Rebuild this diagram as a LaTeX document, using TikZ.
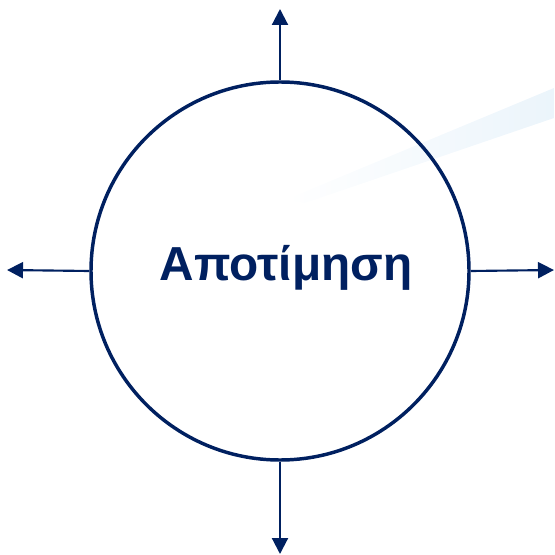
\documentclass[tikz,border=0pt]{standalone}
\usepackage{fontspec}
\setmainfont{Liberation Sans}
\usetikzlibrary{arrows.meta}
\definecolor{navy}{RGB}{0,32,96}
\definecolor{glare}{RGB}{205,228,245}
\begin{document}
\begin{tikzpicture}[x=0.75pt,y=-0.75pt,
  ring/.style={draw=navy,line width=2.6pt,circle,minimum size=378*0.75pt,inner sep=0pt},
  spoke/.style={draw=navy,line width=1.6pt,-{Triangle[length=12pt,width=12pt]}}]
\useasboundingbox (0,0) rectangle (554,555);
% faint background glare
\shade[left color=white,right color=glare,opacity=0.4]
  (285,200) -- (554,88) -- (554,118) -- (305,203) -- cycle;
\node[ring] (c) at (280,271) {};
\node[font=\bfseries\fontsize{35.8}{40}\selectfont,text=navy] (t) at (286,268) {Αποτίμηση};
\coordinate (n) at (280,9);
\coordinate (s) at (280,554);
\coordinate (w) at (7,270);
\coordinate (e) at (554,270);
\draw[spoke] (c.north) -- (n);
\draw[spoke] (c.south) -- (s);
\draw[spoke] (c.west) -- (w);
\draw[spoke] (c.east) -- (e);
\end{tikzpicture}
\end{document}
